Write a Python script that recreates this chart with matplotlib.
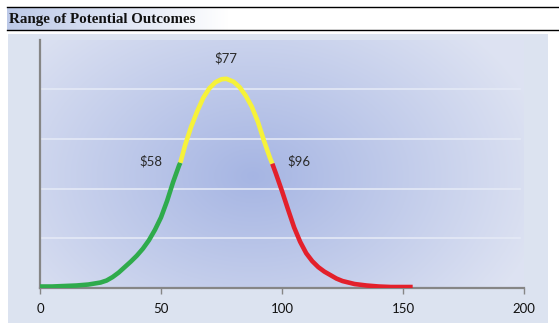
import numpy as np
import matplotlib
matplotlib.use("Agg")
import matplotlib.pyplot as plt
from matplotlib.patches import Rectangle
from matplotlib.lines import Line2D

# ---- data ----
title = "Range of Potential Outcomes"
x_vals = [0, 5, 10, 15, 20, 22.5, 25, 27.5, 30, 32.5, 35, 37.5, 40, 42.5, 45, 47.5,
          50, 52.5, 55, 57.5, 58,
          60, 62.5, 65, 67.5, 70, 72.5, 75, 77, 80, 82.5, 85, 87.5, 90, 92.5, 95, 96,
          97.5, 100, 102.5, 105, 107.5, 110, 112.5, 115, 117.5, 120, 122.5, 125,
          130, 135, 140, 145, 150, 154]
y_vals = [0.03, 0.03, 0.04, 0.05, 0.07, 0.09, 0.11, 0.15, 0.22, 0.31, 0.42, 0.53, 0.65, 0.79, 0.96, 1.17,
          1.42, 1.75, 2.13, 2.47, 2.52,
          2.88, 3.25, 3.56, 3.83, 4.02, 4.14, 4.20, 4.21, 4.15, 4.04, 3.87, 3.65, 3.35, 2.97, 2.62, 2.50,
          2.30, 1.95, 1.58, 1.22, 0.93, 0.70, 0.54, 0.42, 0.33, 0.26, 0.19, 0.14,
          0.08, 0.05, 0.03, 0.02, 0.02, 0.02]
low_cut = 58
high_cut = 96
labels = ["$58", "$77", "$96"]
label_x = [46, 77, 107]
label_y = [2.55, 4.62, 2.55]
x_ticks = [0, 50, 100, 150, 200]

W, H = 559, 330
fig = plt.figure(figsize=(W / 100, H / 100), dpi=100)
fig.patch.set_facecolor("white")

def fx(px):
    return px / W

def fy(py):
    return 1 - py / H

# outer chart area
fig.patches.append(Rectangle((fx(8), fy(323)), fx(548) - fx(8), fy(34) - fy(323),
                             transform=fig.transFigure, facecolor="#dce3f0",
                             edgecolor="none", zorder=-5))

# title bar with horizontal gradient
tax = fig.add_axes([fx(7), fy(30), 1 - fx(7), fy(7) - fy(30)])
grad = np.linspace(0, 1, 256)[None, :]
c0 = np.array([0.74, 0.79, 0.91])
c1 = np.array([1.0, 1.0, 1.0])
t = np.clip(grad / 0.4, 0, 1)[..., None]
img = c0 * (1 - t) + c1 * t
tax.imshow(img, aspect="auto", extent=[0, 1, 0, 1], transform=tax.transAxes)
tax.set_xlim(0, 1)
tax.set_ylim(0, 1)
tax.axis("off")
fig.lines.append(Line2D([fx(7), 1], [fy(7), fy(7)], transform=fig.transFigure,
                        color="black", lw=1.0))
fig.lines.append(Line2D([fx(7), 1], [fy(30), fy(30)], transform=fig.transFigure,
                        color="black", lw=1.0))
fig.text(fx(9), fy(19.5), title, ha="left", va="center",
         fontsize=10.8, fontweight="bold", family="Liberation Serif", color="#111111")

# main axes
ax = fig.add_axes([fx(40), fy(288), fx(524) - fx(40), fy(39.5) - fy(288)])
ax.set_xlim(0, 200)
ax.set_ylim(0, 5)
ax.set_facecolor("none")

# radial gradient background
ny, nx = 200, 400
gx = np.linspace(0, 1, nx)
gy = np.linspace(1, 0, ny)
GX, GY = np.meshgrid(gx, gy)
cx, cy = 0.44, 0.45
r = np.sqrt(((GX - cx) / 0.62) ** 2 + ((GY - cy) / 0.85) ** 2)
r = np.clip(r, 0, 1)
inner = np.array([0.65, 0.71, 0.89])
outer = np.array([0.87, 0.89, 0.95])
bg = inner * (1 - r[..., None]) + outer * r[..., None]
ax.imshow(bg, aspect="auto", extent=[0, 1, 0, 1], transform=ax.transAxes, zorder=0)

for gyv in [1, 2, 3, 4]:
    ax.plot([0, 198.5], [gyv, gyv], color="#e4e9f6", lw=1.2, zorder=1)

xs = np.array(x_vals)
ys = np.array(y_vals)
seg_green = xs <= low_cut
seg_yellow = (xs >= low_cut) & (xs <= high_cut)
seg_red = xs >= high_cut
kw = dict(lw=3.3, solid_capstyle="butt", solid_joinstyle="round", zorder=3)
ax.plot(xs[seg_green], ys[seg_green], color="#2fab4c", **kw)
ax.plot(xs[seg_yellow], ys[seg_yellow], color="#f6f23a", **kw)
ax.plot(xs[seg_red], ys[seg_red], color="#e3202b", **kw)

for lab, lx, ly in zip(labels, label_x, label_y):
    ax.text(lx, ly, lab, ha="center", va="center", fontsize=9.5,
            family="Lato", color="#2a2a2a", zorder=4)

for s in ["top", "right"]:
    ax.spines[s].set_visible(False)
ax.spines["left"].set_color("#868686")
ax.spines["left"].set_linewidth(1.6)
ax.spines["bottom"].set_color("#868686")
ax.spines["bottom"].set_linewidth(1.6)
ax.set_yticks([])
ax.set_xticks(x_ticks)
ax.set_xticklabels([str(v) for v in x_ticks], family="Lato", fontsize=9.5, color="#111111")
ax.tick_params(axis="x", direction="out", length=4, width=1, color="#868686", pad=7)

fig.savefig("out.png", dpi=100)
